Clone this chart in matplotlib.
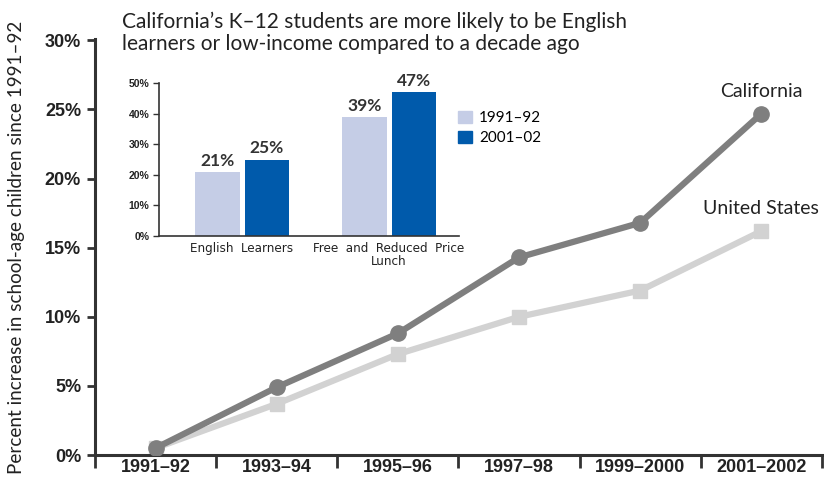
import matplotlib
matplotlib.use("Agg")
import matplotlib.pyplot as plt
from matplotlib.patches import Patch

# Main line chart data
years = ["1991–92", "1993–94", "1995–96", "1997–98", "1999–2000", "2001–2002"]
california = [0.5, 4.9, 8.8, 14.3, 16.8, 24.7]
united_states = [0.5, 3.7, 7.3, 10.0, 11.9, 16.2]
y_ticks = [0, 5, 10, 15, 20, 25, 30]

# Inset bar chart data
bar_groups = ["English  Learners", "Free  and  Reduced  Price\nLunch"]
share_1991 = [21, 39]
share_2001 = [25, 47]
bar_series = ["1991–92", "2001–02"]
inset_ticks = [0, 10, 20, 30, 40, 50]

CA_GRAY = "#7f7f7f"
US_GRAY = "#d2d2d2"
LIGHT_BLUE = "#c5cde6"
DARK_BLUE = "#005aab"
AXIS = "#333333"

MAIN_FONT = ["Lato", "DejaVu Sans"]
NARROW = ["Liberation Sans", "DejaVu Sans"]


def main():
    fig = plt.figure(figsize=(8.24, 4.8), dpi=100)

    # --- Main axes ---
    ax = fig.add_axes([95 / 824, 25 / 480, 727 / 824, 416 / 480])
    x = list(range(len(years)))
    ax.plot(x, california, color=CA_GRAY, lw=4.5, marker="o", ms=11,
            zorder=3, solid_capstyle="round")
    ax.plot(x, united_states, color=US_GRAY, lw=4.5, marker="s", ms=10,
            zorder=2)

    ax.set_xlim(-0.5, len(years) - 0.5)
    ax.set_ylim(0, 30.1)
    ax.set_xticks([i - 0.5 for i in range(len(years) + 1)])
    ax.set_xticklabels([])
    ax.set_xticks(x, minor=True)
    ax.set_xticklabels(years, minor=True, family=NARROW, fontweight="bold",
                       fontsize=13, color="#222222")
    ax.tick_params(axis="x", which="major", length=9, width=2, color=AXIS,
                   direction="out")
    ax.tick_params(axis="x", which="minor", length=0, pad=3)
    ax.set_yticks(y_ticks)
    ax.set_yticklabels([f"{v}%" for v in y_ticks], family=NARROW,
                       fontweight="bold", fontsize=13, color="#222222")
    ax.tick_params(axis="y", length=6, width=2, color=AXIS, pad=4)
    for side in ["top", "right"]:
        ax.spines[side].set_visible(False)
    for side in ["left", "bottom"]:
        ax.spines[side].set_linewidth(2.2)
        ax.spines[side].set_color(AXIS)
    ax.set_ylabel("Percent increase in school-age children since 1991–92",
                  family=MAIN_FONT, fontsize=13.6, color="#222222")
    ax.yaxis.set_label_coords(-0.096, 0.5)

    ax.text(5, california[-1] + 1.0, "California", ha="center", va="bottom",
            family=MAIN_FONT, fontsize=14, color="#222222")
    ax.text(5, united_states[-1] + 1.0, "United States", ha="center",
            va="bottom", family=MAIN_FONT, fontsize=14, color="#222222")

    # --- Inset bar chart ---
    fig.text(122 / 824, 1 - 33 / 480,
             "California’s K–12 students are more likely to be English\n"
             "learners or low-income compared to a decade ago",
             family=MAIN_FONT, fontsize=15, color="#222222",
             va="center", ha="left", linespacing=1.15)

    ins = fig.add_axes([159 / 824, 244 / 480, 300 / 824, 153 / 480])
    gx = list(range(len(bar_groups)))
    w = 0.30
    off = 0.167
    b1 = ins.bar([g - off for g in gx], share_1991, width=w, color=LIGHT_BLUE)
    b2 = ins.bar([g + off for g in gx], share_2001, width=w, color=DARK_BLUE)
    for bars, vals in [(b1, share_1991), (b2, share_2001)]:
        for rect, v in zip(bars, vals):
            ins.text(rect.get_x() + rect.get_width() / 2, v + 1, f"{v}%",
                     ha="center", va="bottom", family=MAIN_FONT,
                     fontweight="bold", fontsize=12.5, color="#333333")
    ins.set_xlim(-0.565, 1.476)
    ins.set_ylim(0, 50)
    ins.set_yticks(inset_ticks)
    ins.set_yticklabels([f"{v}%" for v in inset_ticks], family=NARROW,
                        fontweight="bold", fontsize=7.5, color="#222222")
    ins.tick_params(axis="y", length=4, width=1, color=AXIS, pad=3)
    ins.set_xticks(gx)
    ins.set_xticklabels(bar_groups, family="DejaVu Sans",
                        fontstretch="condensed", fontsize=9.5,
                        color="#222222", linespacing=1.0)
    ins.tick_params(axis="x", length=0, pad=4)
    for side in ["top", "right"]:
        ins.spines[side].set_visible(False)
    for side in ["left", "bottom"]:
        ins.spines[side].set_linewidth(1.2)
        ins.spines[side].set_color(AXIS)
    ins.patch.set_alpha(0)

    handles = [Patch(color=LIGHT_BLUE), Patch(color=DARK_BLUE)]
    fig.legend(handles, bar_series, loc="upper left",
               bbox_to_anchor=(444 / 824, 1 - 97 / 480), frameon=False,
               handlelength=0.9, handleheight=0.9, handletextpad=0.5,
               labelspacing=0.35, prop={"family": MAIN_FONT, "size": 11})

    fig.savefig("out.png", dpi=100)
    plt.close(fig)


if __name__ == "__main__":
    main()
